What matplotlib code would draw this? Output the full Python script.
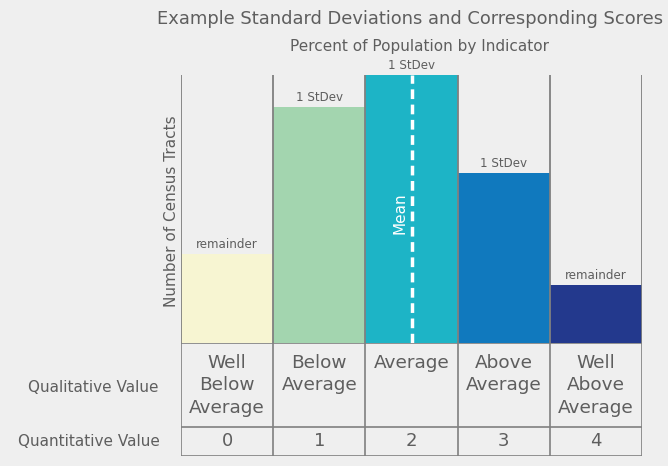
import matplotlib
matplotlib.use("Agg")
import matplotlib.pyplot as plt

categories = ["Well\nBelow\nAverage", "Below\nAverage", "Average", "Above\nAverage", "Well\nAbove\nAverage"]
scores = ["0", "1", "2", "3", "4"]
tract_counts = [89, 236, 268, 170, 58]
bar_labels = ["remainder", "1 StDev", "1 StDev", "1 StDev", "remainder"]
colors = ["#f7f5d2", "#a3d5af", "#1db4c6", "#1079be", "#23398d"]

W, H = 668, 466
BG = "#efefef"
LINE = "#808080"
TXT = "#5e5e5e"


def fx(px):
    return px / W


def fy(py):
    return 1 - py / H


fig = plt.figure(figsize=(W / 100, H / 100), dpi=100, facecolor=BG)

# bar area
ax = fig.add_axes([fx(181), fy(343), fx(642 - 181), (343 - 75) / H])
ax.set_facecolor(BG)
x = list(range(len(tract_counts)))
ax.bar(x, tract_counts, width=1, align="edge", color=colors, zorder=2)
ax.vlines(range(len(x) + 1), 0, max(tract_counts), color=LINE, lw=1.3, zorder=3)
for xi, h, lab in zip(x, tract_counts, bar_labels):
    ax.text(xi + 0.5, h + 3, lab, ha="center", va="bottom", fontsize=8.6, color=TXT)

# mean line in the middle bar
ax.vlines(2.5, 0, max(tract_counts), color="white", lw=2.5,
          linestyle=(0, (2.8, 1.6)), zorder=4)
ax.text(2.37, 130, "Mean", rotation=90, ha="center", va="center",
        color="white", fontsize=11, zorder=5)

ax.set_xlim(0, len(x))
ax.set_ylim(0, max(tract_counts))
ax.axis("off")

# table under the bars
tb = fig.add_axes([fx(181), fy(455.5), fx(642 - 181), (455.5 - 343) / H])
tb.set_facecolor(BG)
tb.set_xlim(0, len(x))
tb.set_ylim(0, 4)
tb.hlines([0, 1, 4], 0, len(x), color=LINE, lw=1.2)
tb.vlines(range(len(x) + 1), 0, 4, color=LINE, lw=1.2)
for xi, cat, sc in zip(x, categories, scores):
    tb.text(xi + 0.5, 3.62, cat, ha="center", va="top", fontsize=13.3,
            color=TXT, linespacing=1.33)
    tb.text(xi + 0.5, 0.5, sc, ha="center", va="center", fontsize=13, color=TXT)
tb.axis("off")

fig.text(fx(158), fy(387), "Qualitative Value", ha="right", va="center",
         fontsize=11, color=TXT)
fig.text(fx(160), fy(441), "Quantitative Value", ha="right", va="center",
         fontsize=11, color=TXT)

fig.text(fx(171), fy(211), "Number of Census Tracts", rotation=90,
         ha="center", va="center", fontsize=11, color=TXT)

fig.text(fx(410), fy(19), "Example Standard Deviations and Corresponding Scores",
         ha="center", va="center", fontsize=12.9, color=TXT)
fig.text(fx(419), fy(46), "Percent of Population by Indicator",
         ha="center", va="center", fontsize=11, color=TXT)

fig.savefig("out.png", dpi=100, facecolor=BG)
